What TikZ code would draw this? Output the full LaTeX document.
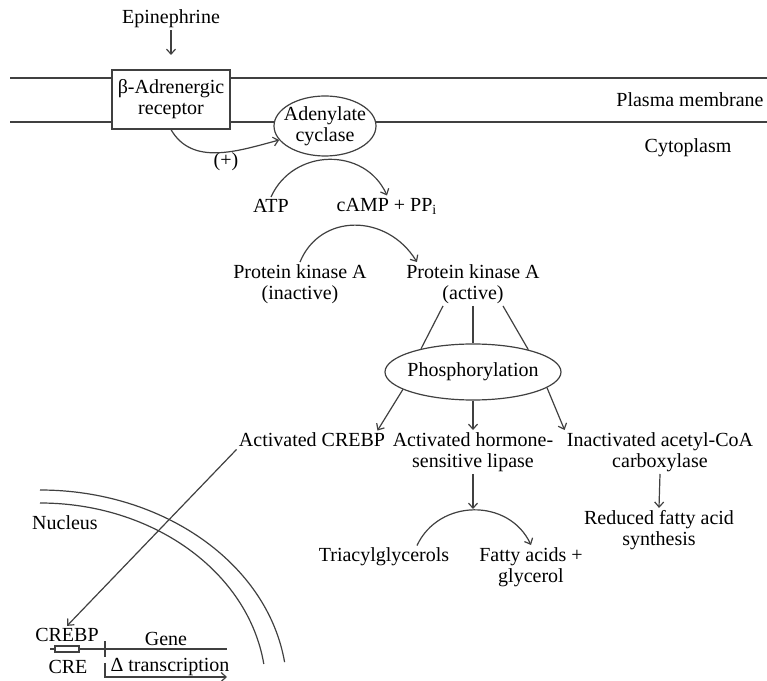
\documentclass[tikz,border=0pt]{standalone}
\usepackage{fontspec}
\setmainfont{Liberation Serif}
\usetikzlibrary{shapes.geometric,arrows.meta}

\begin{document}
\begin{tikzpicture}[x=0.5pt,y=0.5pt,
  txt/.style={align=center,inner sep=1pt,font=\fontsize{10}{10.5}\selectfont},
  ln/.style={draw=black!75,line width=0.6pt},
  arr/.style={ln,-{Straight Barb[length=2.5pt,width=4.5pt]}}]
\useasboundingbox (0,0) rectangle (767,681);

% plasma membrane
\draw [black!75,line width=0.9pt] (10,603) -- (767,603);
\draw [black!75,line width=0.9pt] (10,559) -- (767,559);
\node [txt] (pm) at (690,581) {Plasma membrane};
\node [txt] (cyto) at (688,533) {Cytoplasm};

\node [txt] (epi) at (171,662) {Epinephrine};
\coordinate (epiend) at (171,626);
\node [txt,ln,fill=white,minimum width=59pt,minimum height=29.5pt] (rec) at (171,581.5) {β-Adrenergic\\receptor};
\node [txt,ln,ellipse,fill=white,inner xsep=-4pt,inner ysep=-4pt,minimum width=51pt,minimum height=30pt] (cyc) at (325,555) {Adenylate\\cyclase};
\node [txt] (plus) at (226,519) {(+)};

\draw [arr] (epi) -- (epiend);
\draw [arr] (rec.south) to[out=-60,in=195] (cyc.197);

% cAMP formation
\node [txt] (atp) at (271,475) {ATP};
\node [txt] (camp) at (387,475) {cAMP + PP\textsubscript{i}};
\draw [arr] (atp.north) .. controls +(22,49) and +(-22,49) .. (camp.north);

\node [txt] (pkai) at (300,397) {Protein kinase A\\(inactive)};
\node [txt] (pkaa) at (473,397) {Protein kinase A\\(active)};
\draw [arr] (pkai.north) .. controls +(20,49) and +(-30,49) .. ([xshift=6.5pt]pkaa.north west);

\node [txt,ln,ellipse,inner xsep=-6pt,inner ysep=0pt,minimum width=88pt,minimum height=28pt] (phos) at (473,309) {Phosphorylation};
\draw [ln] ([xshift=-15pt]pkaa.south) -- (phos.156);
\draw [ln] (pkaa.south) -- (phos.north);
\draw [ln] ([xshift=15pt]pkaa.south) -- (phos.22);

% targets
\node [txt] (crebp) at (312,241) {Activated CREBP};
\node [txt] (hsl) at (473,229) {Activated hormone-\\sensitive lipase};
\node [txt] (acc) at (660,229) {Inactivated acetyl-CoA\\carboxylase};
\draw [arr] (phos.194) -- ([xshift=-5pt]crebp.north east);
\draw [arr] (phos.south) -- (hsl.north);
\draw [arr] (phos.-12) -- (acc.north west);

\coordinate (hyd) at (473,172);
\node [txt] (tag) at (384,124) {Triacylglycerols};
\node [txt] (fa) at (531,114) {Fatty acids +\\glycerol};
\node [txt] (rfa) at (659,151) {Reduced fatty acid\\synthesis};
\draw [arr] (hsl.south) -- (hyd);
\draw [arr] ([xshift=16.5pt]tag.north) .. controls +(22,47) and +(-22,47) .. (fa.north);
\draw [arr] (acc.south) -- (rfa.north);

% nucleus
\draw [ln] (40,191) arc[start angle=90,end angle=8,x radius=247,y radius=200];
\draw [ln] (40,178) arc[start angle=90,end angle=8,x radius=226,y radius=187];
\node [txt] (nuc) at (65,158) {Nucleus};

\node [txt] (cb) at (67,46) {CREBP};
\node [txt] (cre) at (68,14) {CRE};
\node [txt] (gene) at (166,42) {Gene};
\node [txt] (trans) at (170,14) {Δ transcription};
\draw [arr] (crebp.south west) -- (cb.north);

\draw [ln] (50,32) -- (227,32);
\draw [ln,fill=white] (55,29) rectangle (79,35);
\draw [ln] (105,24) -- (105,40);
\draw [arr] (105,18) -- (105,4) -- (227,4);
\end{tikzpicture}
\end{document}
